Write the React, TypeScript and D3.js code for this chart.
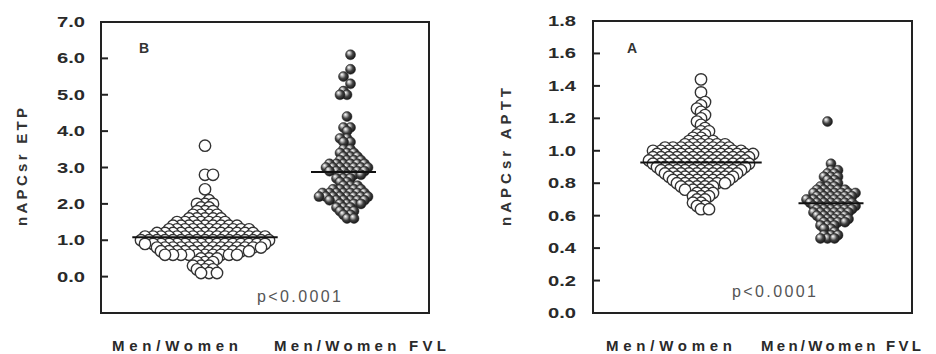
import React from "react";
import * as d3 from "d3";

// ---------- data (value levels and how many dots sit at each) ----------
const categories = ["Men/Women", "Men/Women FVL"];

const etpControlLevels = [3.6, 2.8, 2.4, 2.1, 2.0, 1.9, 1.8, 1.7, 1.6, 1.5, 1.4, 1.3, 1.2, 1.1, 1.0, 0.9, 0.8, 0.7, 0.6, 0.5, 0.4, 0.3, 0.2, 0.1];
const etpControlCounts = [1, 2, 1, 1, 3, 2, 3, 4, 5, 7, 9, 11, 13, 16, 17, 16, 14, 12, 10, 3, 3, 3, 3, 3];

const etpFvlLevels = [6.1, 5.7, 5.5, 5.3, 5.1, 5.0, 4.4, 4.1, 4.0, 3.8, 3.7, 3.5, 3.4, 3.3, 3.2, 3.1, 3.0, 2.9, 2.8, 2.7, 2.6, 2.5, 2.4, 2.3, 2.2, 2.1, 2.0, 1.9, 1.8, 1.7, 1.6];
const etpFvlCounts = [1, 1, 1, 1, 1, 2, 1, 2, 1, 2, 2, 2, 3, 3, 4, 6, 7, 6, 4, 3, 2, 3, 5, 7, 8, 6, 4, 3, 3, 2, 2];

const apttControlLevels = [1.44, 1.36, 1.30, 1.28, 1.26, 1.24, 1.22, 1.20, 1.18, 1.16, 1.14, 1.12, 1.10, 1.08, 1.06, 1.04, 1.02, 1.00, 0.98, 0.96, 0.94, 0.92, 0.90, 0.88, 0.86, 0.84, 0.82, 0.80, 0.78, 0.76, 0.74, 0.72, 0.70, 0.68, 0.66, 0.64];
const apttControlCounts = [1, 1, 1, 1, 1, 1, 1, 1, 1, 1, 1, 2, 2, 2, 4, 6, 9, 12, 13, 13, 13, 13, 12, 11, 10, 9, 8, 7, 5, 4, 3, 3, 2, 2, 2, 2];

const apttFvlLevels = [1.18, 0.92, 0.88, 0.86, 0.84, 0.82, 0.80, 0.78, 0.76, 0.74, 0.72, 0.70, 0.68, 0.66, 0.64, 0.62, 0.60, 0.58, 0.56, 0.54, 0.52, 0.50, 0.48, 0.46];
const apttFvlCounts = [1, 1, 2, 2, 3, 2, 2, 3, 5, 7, 6, 7, 7, 7, 6, 6, 5, 5, 4, 3, 2, 1, 3, 3];

const etpTicks = [0, 1, 2, 3, 4, 5, 6, 7];
const apttTicks = [0, 0.2, 0.4, 0.6, 0.8, 1.0, 1.2, 1.4, 1.6, 1.8];

// ---------- helpers ----------
function expand(levels: number[], counts: number[]): number[] {
  const out: number[] = [];
  levels.forEach((v, i) => {
    for (let k = 0; k < counts[i]; k++) out.push(v);
  });
  return out;
}

type Dot = { v: number; y: number; x: number };

// SigmaPlot-like dot density layout: dots at the same level in one row, rows staggered
function rowLayout(values: number[], y: (v: number) => number, step: number, s: number): Dot[] {
  const rows = d3.group(values, (v) => Math.round(v / step));
  const dots: Dot[] = [];
  for (const [j, vs] of rows) {
    const odd = ((j % 2) + 2) % 2;
    const phase = odd ? s / 2 : 0;
    const cands: number[] = [];
    for (let m = -30; m <= 30; m++) cands.push(phase + m * s);
    const dir = (Math.floor(j / 2) % 2) ? 1 : -1;
    cands.sort((a, b) => Math.abs(a) - Math.abs(b) || dir * (a - b));
    vs.forEach((v, i) => dots.push({ v, y: y(v), x: cands[i] }));
  }
  return dots;
}

type PanelProps = {
  left: number;
  right: number;
  top: number;
  bottom: number;
  domain: [number, number];
  ticks: number[];
  control: number[];
  fvl: number[];
  step: number;
  groupPos: [number, number];
  labelPos: [number, number];
  labelLen: [number, number];
  title: string;
  titleX: number;
  titleY: number;
  titleLen: number;
  letter: string;
  letterX: number;
  pX: number;
  pY: number;
  tickLabelRight: number;
  sCtrl: number;
  sFvl: number;
  rCtrl: number;
  rFvl: number;
};

const FONT = "'Liberation Sans', Arial, sans-serif";

function Panel(p: PanelProps) {
  const y = d3.scaleLinear().domain(p.domain).range([p.bottom, p.top]);
  const x = d3.scaleOrdinal<string, number>().domain(categories).range(p.groupPos);
  const lx = d3.scaleOrdinal<string, number>().domain(categories).range(p.labelPos);

  const groups = [
    { cat: categories[0], dots: rowLayout(p.control, y, p.step, p.sCtrl), r: p.rCtrl, filled: false, values: p.control },
    { cat: categories[1], dots: rowLayout(p.fvl, y, p.step, p.sFvl), r: p.rFvl, filled: true, values: p.fvl },
  ];

  return (
    <g>
      {p.ticks.map((t) => (
        <g key={t}>
          <line x1={p.left} x2={p.left + 7} y1={y(t)} y2={y(t)} stroke="#222" strokeWidth={2} />
          <text
            x={p.tickLabelRight}
            y={y(t) + 5}
            textAnchor="end"
            fontFamily={FONT}
            fontWeight="bold"
            fontSize={14}
            fill="#2a2a2a"
            textLength={28}
            lengthAdjust="spacingAndGlyphs"
          >
            {t.toFixed(1)}
          </text>
        </g>
      ))}
      {groups.map((g, gi) => {
        const cx = x(g.cat);
        const mean = d3.mean(g.values) as number;
        const ext = d3.extent(g.dots, (d) => d.x) as [number, number];
        const sorted = [...g.dots].sort((a, b) => a.y - b.y);
        return (
          <g key={gi}>
            {sorted.map((d, i) =>
              g.filled ? (
                <circle key={i} cx={cx + d.x} cy={d.y} r={g.r} fill="url(#ball)" stroke="#2a2a2a" strokeWidth={0.5} />
              ) : (
                <circle key={i} cx={cx + d.x} cy={d.y} r={g.r} fill="#fff" stroke="#333" strokeWidth={1.4} />
              )
            )}
            <line
              x1={cx + ext[0] - g.r - 3}
              x2={cx + ext[1] + g.r + 3}
              y1={y(mean)}
              y2={y(mean)}
              stroke="#111"
              strokeWidth={2}
            />
          </g>
        );
      })}
      <rect
        x={p.left}
        y={p.top}
        width={p.right - p.left}
        height={p.bottom - p.top}
        fill="none"
        stroke="#222"
        strokeWidth={2}
      />
      <text x={p.letterX} y={53} fontFamily={FONT} fontWeight="bold" fontSize={14} fill="#333">
        {p.letter}
      </text>
      <text
        x={p.pX}
        y={p.pY}
        textAnchor="middle"
        fontFamily={FONT}
        fontSize={16}
        fill="#555"
        textLength={84}
        lengthAdjust="spacing"
      >
        p&lt;0.0001
      </text>
      {categories.map((c, i) => (
        <text
          key={c}
          x={lx(c)}
          y={351}
          textAnchor="middle"
          fontFamily={FONT}
          fontWeight="bold"
          fontSize={15}
          fill="#2a2a2a"
          textLength={p.labelLen[i]}
          lengthAdjust="spacing"
        >
          {c}
        </text>
      ))}
      <text
        transform={`translate(${p.titleX},${p.titleY}) rotate(-90)`}
        textAnchor="middle"
        fontFamily={FONT}
        fontWeight="bold"
        fontSize={15}
        fill="#333"
        textLength={p.titleLen}
        lengthAdjust="spacing"
      >
        {p.title}
      </text>
    </g>
  );
}

export default function App() {
  return (
    <svg width={936} height={354} style={{ position: "absolute", left: 0, top: 0, background: "#fff" }}>
      <defs>
        <radialGradient id="ball" cx="0.45" cy="0.45" r="0.6" fx="0.33" fy="0.28">
          <stop offset="0" stopColor="#ffffff" />
          <stop offset="0.22" stopColor="#bdbdbd" />
          <stop offset="0.55" stopColor="#444" />
          <stop offset="1" stopColor="#0c0c0c" />
        </radialGradient>
      </defs>
      <Panel
        left={101}
        right={429}
        top={22}
        bottom={313}
        domain={[-1, 7]}
        ticks={etpTicks}
        control={expand(etpControlLevels, etpControlCounts)}
        fvl={expand(etpFvlLevels, etpFvlCounts)}
        step={0.1}
        groupPos={[205, 347]}
        labelPos={[175, 360]}
        labelLen={[126, 172]}
        title="nAPCsr  ETP"
        titleX={27}
        titleY={167}
        titleLen={118}
        letter="B"
        letterX={139}
        pX={299}
        pY={302}
        tickLabelRight={85}
        sCtrl={8}
        sFvl={7}
        rCtrl={5.7}
        rFvl={5}
      />
      <Panel
        left={593}
        right={912}
        top={21}
        bottom={313}
        domain={[0, 1.8]}
        ticks={apttTicks}
        control={expand(apttControlLevels, apttControlCounts)}
        fvl={expand(apttFvlLevels, apttFvlCounts)}
        step={0.02}
        groupPos={[701, 831]}
        labelPos={[669, 841]}
        labelLen={[126, 160]}
        title="nAPCsr  APTT"
        titleX={511}
        titleY={157}
        titleLen={138}
        letter="A"
        letterX={627}
        pX={774}
        pY={297}
        tickLabelRight={576}
        sCtrl={8}
        sFvl={7}
        rCtrl={5.7}
        rFvl={5}
      />
    </svg>
  );
}
